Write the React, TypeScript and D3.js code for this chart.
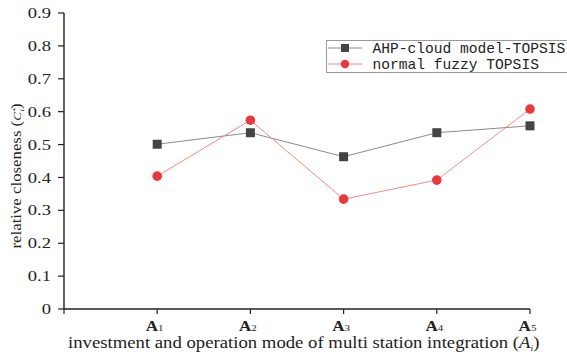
import React from "react";
import * as d3 from "d3";

const categories = ["A1", "A2", "A3", "A4", "A5"];
const ahpValues = [0.501, 0.536, 0.463, 0.536, 0.557];
const fuzzyValues = [0.404, 0.574, 0.334, 0.392, 0.608];
const yTicks = [0, 0.1, 0.2, 0.3, 0.4, 0.5, 0.6, 0.7, 0.8, 0.9];
const seriesNames = ["AHP-cloud model-TOPSIS", "normal fuzzy TOPSIS"];

export default function App() {
  const W = 567, H = 354;
  const x0 = 64, x1 = 530;
  const y0 = 309, y1 = 13;
  const x = d3.scalePoint<string>().domain(["", ...categories]).range([x0, x1]);
  const y = d3.scaleLinear().domain([0, 0.9]).range([y0, y1]);
  const line = d3.line<number>().x((_, i) => x(categories[i]) as number).y((d) => y(d));
  const serif = "'Liberation Serif', 'Times New Roman', serif";
  const mono = "'Liberation Mono', 'DejaVu Sans Mono', monospace";
  return (
    <svg width={W} height={H} style={{ position: "absolute", left: 0, top: 0, background: "#fff" }}>
      {/* axes */}
      <line x1={x0} x2={x0} y1={y1} y2={y0} stroke="#222" strokeWidth={1.4} />
      <line x1={x0} x2={x1} y1={y0} y2={y0} stroke="#222" strokeWidth={1.4} />
      {yTicks.map((t) => (
        <g key={t}>
          <line x1={x0 - 6} x2={x0} y1={y(t)} y2={y(t)} stroke="#222" strokeWidth={1.2} />
          <text transform={`translate(${x0 - 13},${y(t)}) scale(1.28,1)`} dy="0.35em" textAnchor="end" fontFamily={serif} fontSize={14.5} fill="#222">
            {t === 0 ? "0" : t.toFixed(1)}
          </text>
        </g>
      ))}
      <line x1={x0} x2={x0} y1={y0} y2={y0 + 5} stroke="#222" strokeWidth={1.2} />
      {categories.map((c) => (
        <g key={c}>
          <line x1={x(c)} x2={x(c)} y1={y0} y2={y0 + 5} stroke="#222" strokeWidth={1.2} />
          <text transform={`translate(${(x(c) as number) - 2.5},331) scale(1.22,1)`} textAnchor="middle" fontFamily={serif} fontSize={14} fontWeight="bold" fill="#222">
            {c[0]}
            <tspan fontSize={9} fontWeight="normal">{c.slice(1)}</tspan>
          </text>
        </g>
      ))}
      <text transform="translate(68,348) scale(1.17,1)" fontFamily={serif} fontSize={16} fill="#222">
        investment and operation mode of multi station integration (
        <tspan fontStyle="italic">A</tspan>
        <tspan fontSize={8} fontStyle="italic" dy="3">i</tspan>
        <tspan dy="-3">)</tspan>
      </text>
      <text transform="translate(21,176) rotate(-90) scale(1.2,1)" textAnchor="middle" fontFamily={serif} fontSize={14} fill="#222">
        relative closeness (
        <tspan fontStyle="italic" fontSize={11}>C</tspan>
        <tspan fontStyle="italic" fontSize={7} dy="-4">*</tspan>
        <tspan fontStyle="italic" fontSize={7} dx="-3" dy="7">i</tspan>
        <tspan dy="-3">)</tspan>
      </text>
      {/* series */}
      <path d={line(ahpValues) || ""} fill="none" stroke="#8a8a8a" strokeWidth={1} />
      <path d={line(fuzzyValues) || ""} fill="none" stroke="#f08a8a" strokeWidth={1} />
      {ahpValues.map((v, i) => (
        <rect key={"a" + i} x={(x(categories[i]) as number) - 4.5} y={y(v) - 4.5} width={9} height={9} fill="#444" />
      ))}
      {fuzzyValues.map((v, i) => (
        <circle key={"f" + i} cx={x(categories[i]) as number} cy={y(v)} r={4.8} fill="#e8383a" />
      ))}
      {/* legend */}
      <rect x={326.5} y={40.5} width={260} height={32} fill="#fff" stroke="#999" strokeWidth={1} />
      <line x1={328} x2={362} y1={48} y2={48} stroke="#8a8a8a" strokeWidth={1} />
      <rect x={341} y={44} width={8} height={8} fill="#444" />
      <line x1={328} x2={362} y1={64} y2={64} stroke="#f08a8a" strokeWidth={1} />
      <circle cx={345} cy={64} r={4.2} fill="#e8383a" />
      <text x={372.5} y={48} dy="0.35em" fontFamily={mono} fontSize={14.6} fill="#222">{seriesNames[0]}</text>
      <text x={372.5} y={64} dy="0.35em" fontFamily={mono} fontSize={14.6} fill="#222">{seriesNames[1]}</text>
    </svg>
  );
}
